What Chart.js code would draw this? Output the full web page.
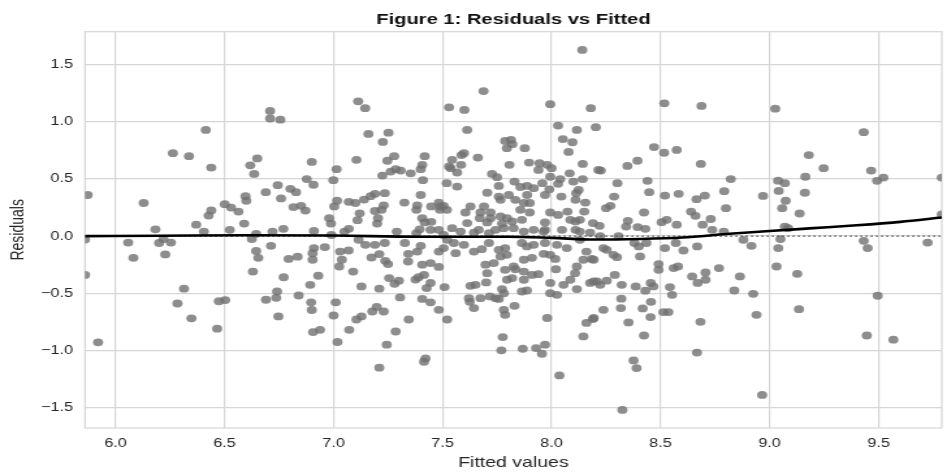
<!DOCTYPE html>
<html>
<head>
<meta charset="utf-8">
<title>Residuals vs Fitted</title>
<script src="https://cdn.jsdelivr.net/npm/chart.js@4.4.1/dist/chart.umd.min.js"></script>
<style>
  html, body { margin: 0; padding: 0; background: #fff; overflow: hidden; }
  /* the reference figure is stretched sideways, so draw narrow and widen it */
  #wrap { width: 728px; height: 473px; transform: scaleX(1.3008); transform-origin: 0 0; }
</style>
</head>
<body>
<div id="wrap"><canvas id="chartResid" width="728" height="473"></canvas></div>
<script>
// ── Data ──
const fittedX = [
  6.414,6.263,6.337,6.439,5.872,6.129,6.618,6.65,6.636,6.596,6.60,6.501,6.53,6.564,6.439,6.427,6.37,6.183,6.405,6.524,6.59,6.645,
  5.86,6.058,6.082,6.20,6.22,6.254,6.228,6.625,6.645,6.655,6.63,5.86,6.314,6.284,6.348,6.474,6.503,6.466,5.92,
  6.709,6.709,6.756,7.113,7.145,7.16,7.252,7.226,6.90,7.105,7.014,6.999,6.877,6.908,6.744,6.689,6.759,6.802,6.828,6.816,6.851,6.871,
  7.247,7.278,7.224,7.262,7.285,7.308,7.354,7.40,7.407,7.418,7.41,7.235,7.19,7.17,7.14,7.10,7.07,7.016,7.003,7.12,7.11,
  7.23,7.22,7.19,7.204,7.20,7.325,7.40,7.384,7.38,7.407,7.418,6.98,6.988,7.07,6.77,7.29,6.72,6.91,7.395,
  6.713,6.794,6.835,6.904,6.91,6.904,6.96,6.771,6.893,6.93,6.741,6.69,6.737,6.84,6.897,6.90,6.747,6.906,6.938,
  7.03,7.069,7.038,7.026,7.09,7.01,7.0,7.018,7.128,7.072,7.105,7.128,7.115,7.146,7.19,7.235,7.174,7.21,7.237,7.25,
  7.21,7.255,7.30,7.28,7.305,7.407,7.178,7.198,7.23,7.345,7.285,7.244,7.21,7.422,7.415,
  7.327,7.343,7.342,7.384,7.40,7.407,7.376,7.39,7.427,7.38,6.99,7.05,
  8.141,7.688,7.53,7.60,7.994,8.18,7.613,8.03,8.116,8.203,7.787,7.814,7.795,7.82,7.877,8.052,8.096,8.078,
  7.587,7.598,7.544,7.585,7.53,7.537,7.567,7.662,7.807,7.897,7.945,7.98,7.94,8.0,8.143,8.215,7.727,7.75,7.994,8.083,
  7.519,7.567,7.758,7.83,7.857,7.888,7.918,7.958,8.04,8.03,8.10,8.143,7.705,7.758,7.766,7.804,7.834,7.888,7.873,7.90,
  7.97,7.99,8.045,8.113,8.124,8.11,8.155,7.448,7.483,7.49,7.505,7.52,7.488,7.605,7.628,7.674,7.69,7.72,7.72,7.671,
  7.766,7.796,7.773,7.819,7.78,7.826,7.864,7.90,7.857,7.994,8.03,8.073,8.086,8.11,8.13,8.15,7.97,7.97,
  7.448,7.445,7.483,7.544,7.583,7.613,7.666,7.705,7.743,7.918,8.048,8.11,8.19,
  7.505,7.644,7.713,7.873,7.964,8.13,8.177,
  7.521,7.552,7.56,7.483,7.505,7.598,7.644,7.68,7.713,7.758,7.787,7.795,7.766,7.864,7.887,7.918,7.97,7.873,7.91,
  7.964,7.994,8.017,8.02,8.025,8.07,8.13,8.16,8.184,8.146,7.445,7.483,7.415,7.445,7.509,7.445,7.483,7.521,
  7.628,7.651,7.70,7.621,7.625,7.644,7.674,7.717,7.743,7.758,7.773,7.781,7.796,7.819,7.834,7.826,7.787,7.705,7.697,7.735,
  7.873,7.91,7.94,7.873,7.864,7.887,7.994,8.055,8.086,8.108,8.116,8.116,7.994,8.025,8.177,8.208,
  7.781,7.787,7.83,7.98,8.16,8.19,8.146,7.776,7.77,7.868,7.929,7.956,7.97,8.036,
  8.517,8.688,8.47,8.516,8.574,8.394,8.348,8.685,8.226,8.302,8.44,8.448,8.822,8.287,8.52,8.583,8.665,8.703,8.792,8.97,
  8.25,8.27,8.424,8.64,8.66,8.80,8.73,8.35,8.342,8.505,8.528,8.574,8.693,8.22,8.395,8.43,8.737,8.79,
  8.223,8.307,8.238,8.253,8.38,8.40,8.435,8.193,8.284,8.30,8.406,8.52,8.57,8.605,8.668,8.491,8.491,8.56,8.58,
  8.193,8.253,8.29,8.223,8.322,8.386,8.43,8.455,8.467,8.543,8.553,8.645,8.67,8.706,8.706,8.768,8.864,8.838,8.925,
  8.88,8.917,8.32,8.318,8.238,8.193,8.353,8.418,8.456,8.454,8.513,8.536,8.683,8.424,8.94,8.667,8.376,8.39,8.325,8.966,
  9.026,9.432,9.18,9.248,9.466,9.493,9.522,9.79,9.164,9.039,9.07,9.042,9.162,9.074,9.058,9.138,9.07,9.085,9.79,
  9.05,9.04,9.032,9.127,9.135,9.432,9.45,9.496,9.446,9.568,9.725
];
const residY = [
  0.93,0.726,0.70,0.60,0.36,0.29,0.62,0.68,0.545,0.35,0.31,0.28,0.25,0.215,0.225,0.18,0.10,0.06,0.04,0.055,0.11,0.02,
  -0.03,-0.056,-0.19,-0.06,-0.026,-0.056,-0.16,-0.026,-0.13,-0.19,-0.31,-0.34,-0.46,-0.59,-0.72,-0.57,-0.56,-0.81,-0.93,
  1.096,1.03,1.02,1.18,1.12,0.895,0.906,0.825,0.65,0.668,0.586,0.49,0.50,0.45,0.446,0.385,0.33,0.414,0.385,0.254,0.265,0.224,
  0.66,0.70,0.53,0.565,0.586,0.574,0.55,0.586,0.624,0.70,0.49,0.376,0.37,0.35,0.32,0.29,0.30,0.31,0.26,0.20,0.14,
  0.27,0.23,0.22,0.157,0.11,0.294,0.36,0.27,0.23,0.157,0.12,0.157,0.11,0.064,0.064,0.04,0.04,0.046,0.06,
  -0.085,-0.20,-0.18,-0.15,-0.105,-0.207,-0.096,-0.36,-0.426,-0.347,-0.485,-0.557,-0.54,-0.52,-0.58,-0.647,-0.703,-0.84,-0.82,
  -0.135,-0.126,-0.207,-0.266,-0.31,-0.58,-0.695,-0.927,-0.44,-0.82,-0.73,-0.703,-0.032,-0.076,-0.076,-0.06,-0.187,-0.157,-0.216,-0.245,
  -0.46,-0.367,-0.39,-0.417,-0.537,-0.55,-0.66,-0.62,-0.66,-0.73,-0.835,-0.95,-1.152,-1.07,-1.10,
  -0.06,-0.155,-0.222,-0.135,-0.085,-0.25,-0.38,-0.36,-0.455,0.026,0.01,0.04,
  1.63,1.27,1.128,1.105,1.155,1.12,0.93,0.968,0.93,0.954,0.834,0.843,0.77,0.805,0.77,0.85,0.822,0.737,
  0.71,0.726,0.668,0.624,0.61,0.595,0.557,0.688,0.624,0.644,0.638,0.624,0.58,0.595,0.632,0.58,0.545,0.516,0.52,0.55,
  0.464,0.434,0.44,0.478,0.43,0.44,0.42,0.464,0.50,0.458,0.478,0.50,0.38,0.346,0.318,0.36,0.318,0.36,0.29,0.29,
  0.36,0.41,0.346,0.376,0.405,0.318,0.294,0.26,0.294,0.26,0.265,0.23,0.23,0.207,0.26,0.207,0.26,0.207,0.157,0.157,
  0.172,0.157,0.11,0.128,0.07,0.07,0.143,0.207,0.23,0.207,0.186,0.215,0.143,0.128,0.143,0.215,0.12,0.055,
  0.125,0.055,0.055,0.07,0.04,0.114,0.055,0.12,0.055,0.055,0.055,0.055,0.114,
  0.01,0.03,0.026,0.04,0.04,0.04,0.03,
  -0.032,-0.06,-0.149,-0.135,-0.105,-0.076,-0.135,-0.114,-0.06,-0.12,-0.105,-0.164,-0.178,-0.06,-0.09,-0.076,-0.06,-0.207,-0.19,
  -0.155,-0.164,-0.20,-0.29,-0.076,-0.105,-0.032,-0.135,-0.20,-0.207,-0.236,-0.27,-0.34,-0.41,-0.446,-0.58,-0.645,-0.73,
  -0.435,-0.426,-0.405,-0.543,-0.575,-0.63,-0.543,-0.528,-0.543,-0.55,-0.464,-0.50,-0.382,-0.367,-0.29,-0.266,-0.295,-0.324,-0.25,-0.236,
  -0.31,-0.34,-0.333,-0.382,-0.485,-0.476,-0.41,-0.426,-0.382,-0.324,-0.266,-0.464,-0.50,-0.514,-0.41,-0.397,
  -0.645,-0.689,-0.61,-0.717,-0.76,-0.726,-0.878,-0.884,-1.0,-0.986,-0.98,-1.03,-0.95,-1.22,
  1.163,1.14,0.78,0.73,0.755,0.66,0.615,0.632,0.574,0.464,0.484,0.385,0.50,0.346,0.355,0.37,0.324,0.355,0.394,0.352,
  0.245,0.265,0.207,0.215,0.178,0.245,0.15,0.134,0.084,0.122,0.143,0.10,0.10,0.09,0.079,0.064,0.055,0.04,
  0.0,0.0,-0.105,-0.12,-0.06,-0.09,-0.06,-0.207,-0.164,-0.184,-0.178,-0.105,-0.06,-0.126,-0.09,-0.245,-0.295,-0.28,-0.266,
  -0.397,-0.39,-0.34,-0.426,-0.426,-0.44,-0.478,-0.41,-0.44,-0.446,-0.514,-0.353,-0.41,-0.382,-0.318,-0.28,-0.353,-0.476,-0.505,
  -0.032,-0.085,-0.548,-0.63,-0.645,-0.717,-0.756,-0.633,-0.575,-0.709,-0.665,-0.665,-0.75,-0.87,-0.689,-1.02,-1.088,-1.155,-1.522,-1.39,
  1.116,0.91,0.71,0.595,0.574,0.484,0.513,0.513,0.52,0.486,0.464,0.396,0.38,0.31,0.245,0.198,0.084,0.07,0.19,
  -0.026,-0.105,-0.266,-0.33,-0.64,-0.041,-0.105,-0.522,-0.87,-0.907,-0.056
];

// lowess smoother (black line)
const lowessX = [5.86, 6.2, 6.6, 7.0, 7.4, 7.8, 8.0, 8.2, 8.4, 8.6, 8.8, 9.0, 9.2, 9.4, 9.6, 9.79];
const lowessY = [0.0, 0.003, 0.008, 0.005, -0.005, -0.005, -0.015, -0.03, -0.025, -0.012, 0.018, 0.045, 0.07, 0.095, 0.125, 0.163];

const xTicks = [6.0, 6.5, 7.0, 7.5, 8.0, 8.5, 9.0, 9.5];
const yTicks = [-1.5, -1.0, -0.5, 0.0, 0.5, 1.0, 1.5];
const xRange = [5.86, 9.79];
const yRange = [-1.68, 1.79];

const scatterPts = fittedX.map((x, i) => ({ x, y: residY[i] }));
const lowessPts  = lowessX.map((x, i) => ({ x, y: lowessY[i] }));
const zeroPts    = [{ x: xRange[0], y: 0 }, { x: xRange[1], y: 0 }];

const gridClr = '#d6d6d6';
const textClr = '#262626';
const sans    = "'Liberation Sans', Arial, sans-serif";
const fmt = v => (v < 0 ? '\u2212' : '') + Math.abs(v).toFixed(1);

// ── Frame around the plot area ──
const framePlugin = {
  id: 'frame',
  beforeDatasetsDraw(chart) {
    const { ctx, chartArea: a } = chart;
    ctx.save();
    ctx.strokeStyle = gridClr;
    ctx.lineWidth = 1.2;
    ctx.strokeRect(a.left, a.top, a.right - a.left, a.bottom - a.top);
    ctx.restore();
  }
};

new Chart(document.getElementById('chartResid').getContext('2d'), {
  type: 'scatter',
  data: {
    datasets: [
      {
        label: 'lowess',
        data: lowessPts,
        showLine: true,
        borderColor: '#000',
        borderWidth: 2.6,
        pointRadius: 0,
        cubicInterpolationMode: 'monotone',
        clip: 0,
        order: 0
      },
      {
        label: 'zero',
        data: zeroPts,
        showLine: true,
        borderColor: '#555',
        borderWidth: 1.4,
        borderDash: [1.6, 2.4],
        pointRadius: 0,
        clip: 0,
        order: 1
      },
      {
        label: 'residuals',
        data: scatterPts,
        pointStyle: 'circle',
        pointRadius: 3.9,
        borderWidth: 0,
        backgroundColor: 'rgba(112,112,112,0.8)',
        clip: 0,
        order: 2
      }
    ]
  },
  options: {
    responsive: false,
    animation: false,
    devicePixelRatio: 1,
    layout: { padding: { left: 0, right: 1, top: 0, bottom: 0 } },
    plugins: {
      legend: { display: false },
      tooltip: { enabled: false },
      title: {
        display: true,
        fullSize: false,
        text: 'Figure 1: Residuals vs Fitted',
        color: '#111',
        font: { family: sans, size: 15.5, weight: 'bold' },
        padding: { top: 10, bottom: 3.1 }
      }
    },
    scales: {
      x: {
        type: 'linear',
        min: xRange[0],
        max: xRange[1],
        afterBuildTicks: s => { s.ticks = xTicks.map(v => ({ value: v })); },
        afterFit: s => { s.height = 45; },
        grid: { color: gridClr, lineWidth: 1.2, drawTicks: false },
        border: { display: false },
        ticks: { color: textClr, padding: 8, font: { family: sans, size: 12.5 }, callback: v => v.toFixed(1) },
        title: {
          display: true,
          text: 'Fitted values',
          color: textClr,
          font: { family: sans, size: 15 },
          padding: { top: 0, bottom: 1.2 }
        }
      },
      y: {
        type: 'linear',
        min: yRange[0],
        max: yRange[1],
        afterBuildTicks: s => { s.ticks = yTicks.map(v => ({ value: v })); },
        afterFit: s => { s.width = 65.35; },
        grid: { color: gridClr, lineWidth: 1.3, drawTicks: false },
        border: { display: false },
        ticks: { color: textClr, padding: 9.2, font: { family: sans, size: 12.5 }, callback: v => fmt(v) },
        title: {
          display: true,
          text: 'Residuals',
          color: textClr,
          font: { family: sans, size: 14 },
          padding: { top: 5.4, bottom: 0 }
        }
      }
    }
  },
  plugins: [framePlugin]
});
</script>
</body>
</html>
